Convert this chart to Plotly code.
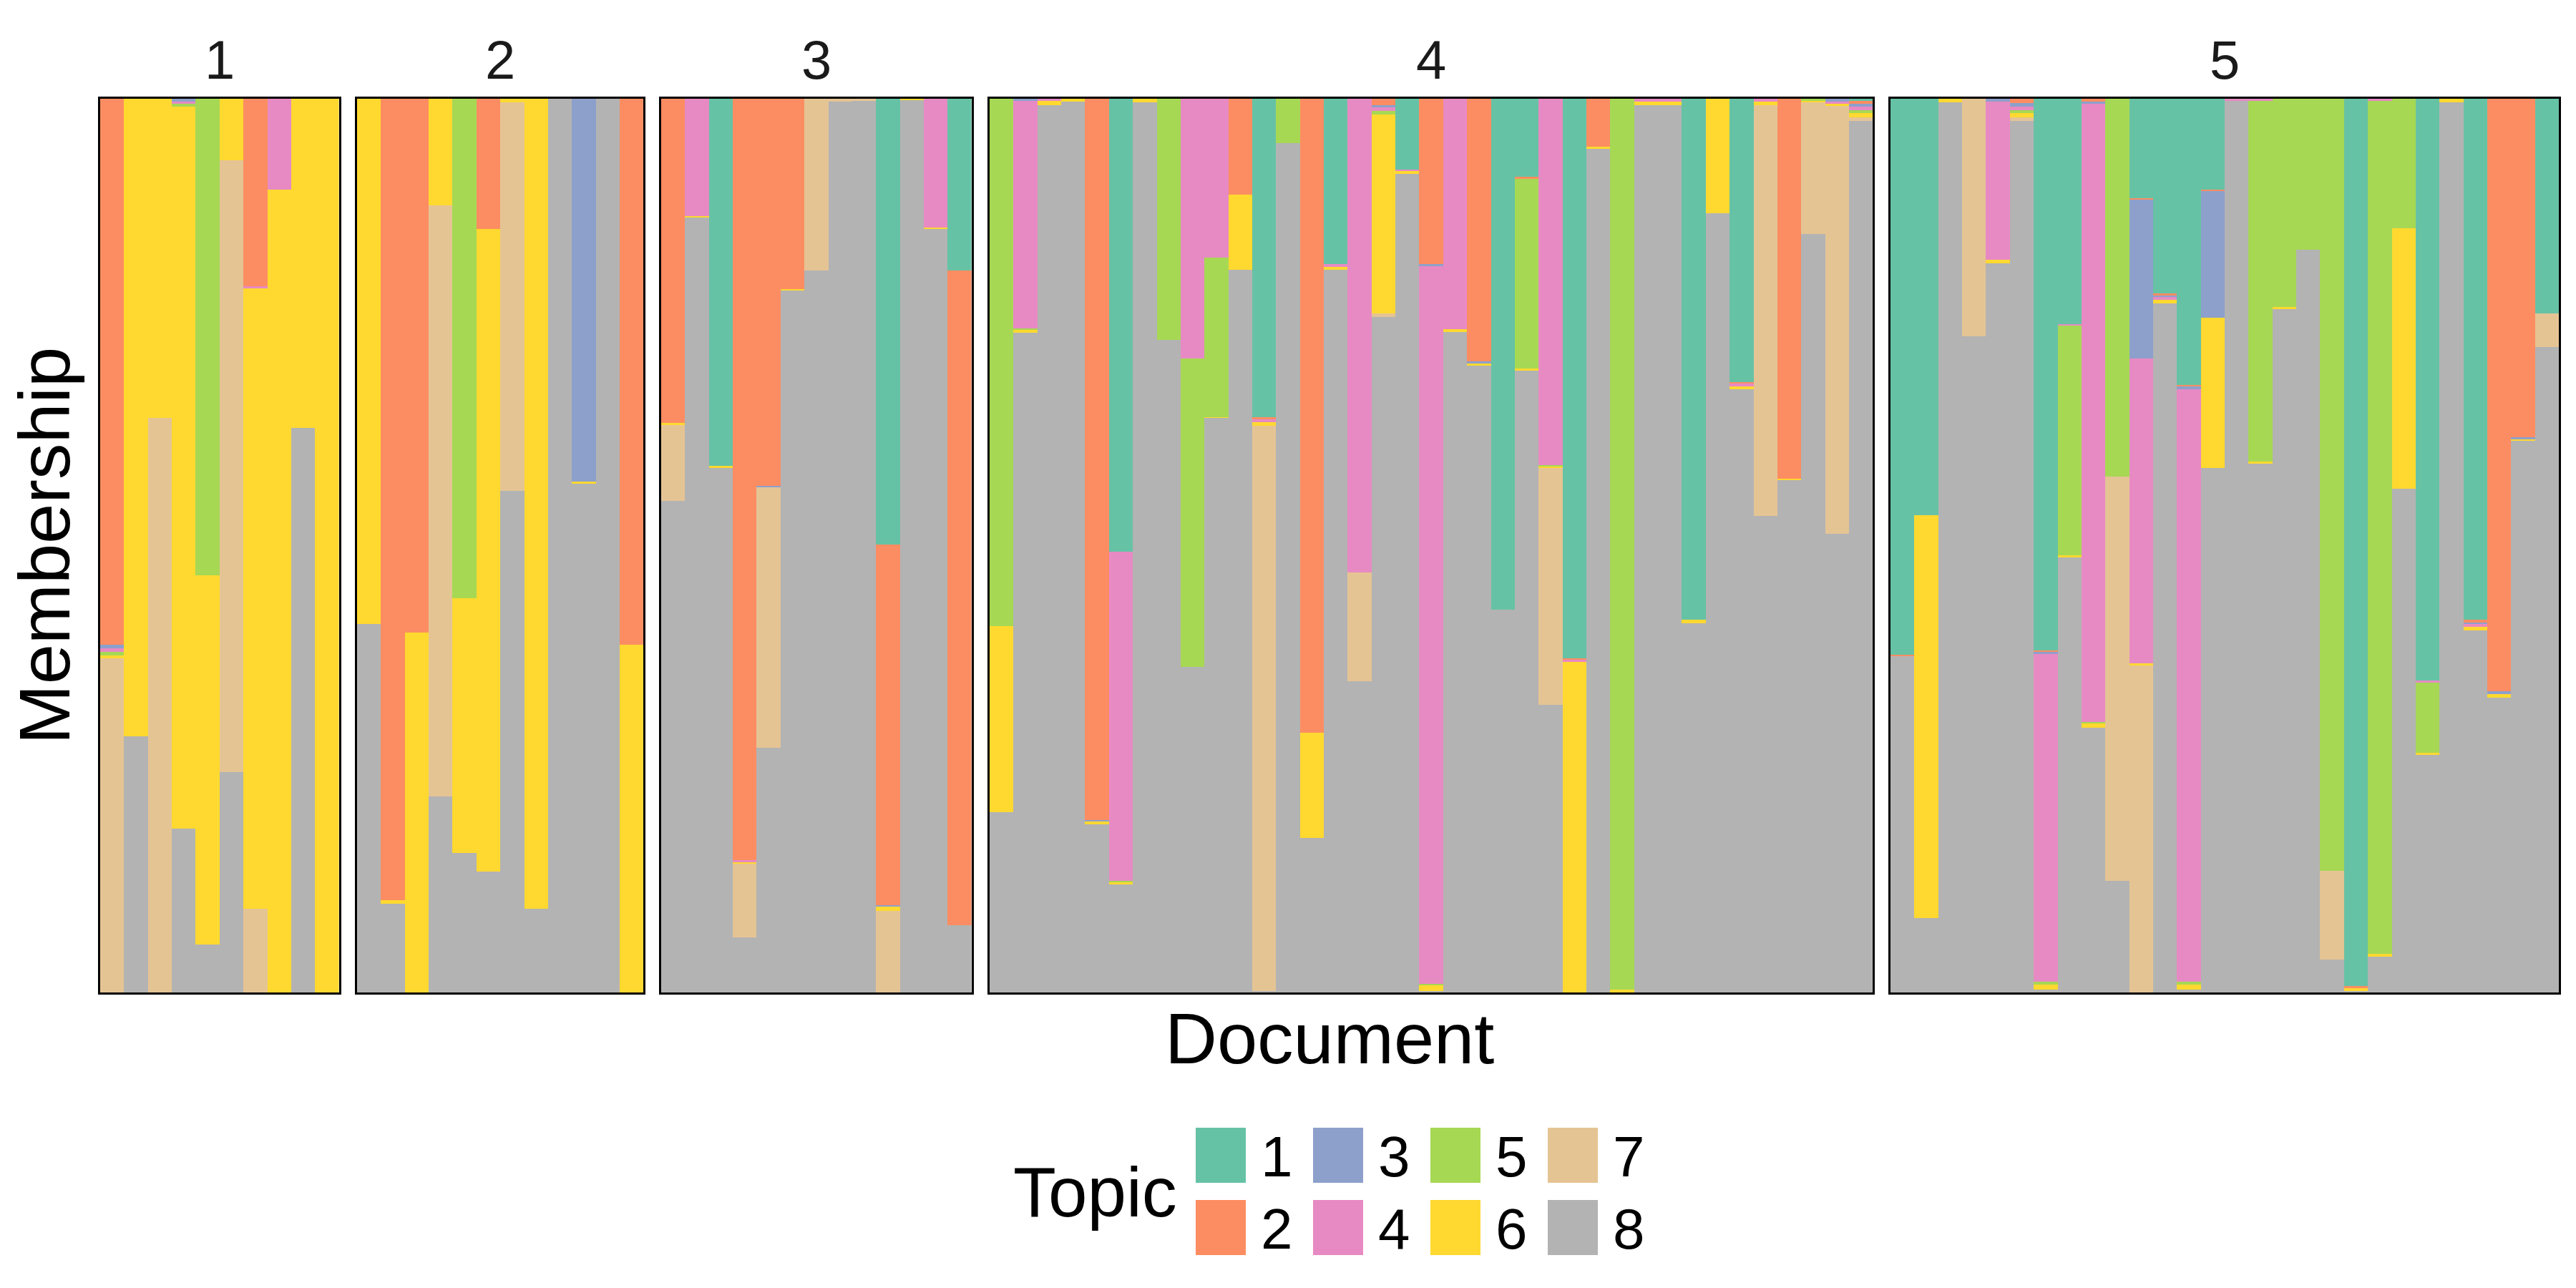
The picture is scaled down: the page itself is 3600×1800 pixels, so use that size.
import plotly.graph_objects as go

W, H = 3600, 1800

# ---------------- data ----------------
panel_labels = ["1", "2", "3", "4", "5"]
panel_sizes = [10, 12, 13, 37, 28]
topic_names = ["1", "2", "3", "4", "5", "6", "7", "8"]
topic_colors = ["#66C2A5", "#FC8D62", "#8DA0CB", "#E78AC3",
                "#A6D854", "#FFD92F", "#E5C494", "#B3B3B3"]

# membership of each document in each topic (documents in panel order)
topic1 = ([0, 0, 0, 0, 0, 0, 0, 0, 0, 0]
          + [0] * 12
          + [0, 0, .411, 0, 0, 0, 0, 0, 0, .499, 0, 0, .192]
          + [0, 0, 0, 0, 0, .507, 0, 0, 0, 0, 0, .356, 0, 0, .185, 0, 0, .079, 0, 0,
             0, .572, .087, 0, .626, 0, 0, 0, 0, .583, 0, .317, 0, 0, 0, 0, .002]
          + [.622, .466, 0, 0, 0, 0, .617, .252, 0, 0, .111, .218, .320, .102, 0, 0, 0, 0, 0, .993,
             0, 0, .651, 0, .583, 0, 0, .240])
topic2 = ([.611, 0, 0, 0, 0, 0, .210, 0, 0, 0]
          + [0, .897, .597, 0, 0, .146, 0, 0, 0, 0, 0, .611]
          + [.363, 0, 0, .852, .433, .213, 0, 0, 0, .403, 0, 0, .733]
          + [0, 0, 0, 0, .807, 0, 0, 0, 0, 0, .107, .003, 0, .709, 0, 0, .007, 0, .185, 0,
             .294, 0, .003, 0, .002, .054, 0, 0, 0, 0, 0, .002, 0, .425, 0, 0, .004]
          + [.002, 0, 0, 0, 0, .005, .002, 0, .003, 0, .002, .002, .002, .001, 0, 0, 0, 0, 0, .002,
             0, 0, 0, 0, .003, .663, .379, 0])
topic3 = ([.004, 0, 0, .003, 0, 0, 0, 0, 0, 0]
          + [0, 0, 0, 0, 0, 0, 0, 0, 0, .428, 0, 0]
          + [0, 0, 0, 0, .002, 0, 0, 0, 0, .002, 0, 0, 0]
          + [0, .002, 0, 0, .002, 0, 0, 0, 0, 0, 0, 0, 0, 0, 0, 0, .003, 0, .002, 0,
             .002, 0, 0, 0, 0, 0, 0, 0, 0, 0, 0, 0, 0, 0, 0, .003, .003]
          + [0, 0, 0, 0, .003, .004, .002, 0, .003, 0, .178, .002, .003, .142, 0, 0, 0, 0, 0, 0,
             0, 0, 0, 0, .002, .003, .002, 0])
topic4 = ([.004, 0, 0, .003, 0, 0, .002, .102, 0, 0]
          + [0] * 12
          + [0, .131, 0, .002, 0, 0, 0, 0, 0, 0, 0, .144, 0]
          + [0, .255, .002, 0, 0, .368, 0, 0, .291, .178, 0, .003, 0, 0, .003, .530, .004, .002, .803, .258,
             0, 0, 0, .410, .002, 0, 0, .003, .003, 0, 0, .003, .003, 0, 0, .003, .004]
          + [0, 0, 0, 0, .177, .004, .367, .002, .691, 0, .341, .003, .663, 0, .002, .002, 0, 0, 0, 0,
             .002, 0, .002, 0, .003, 0, 0, 0])
topic5 = ([.004, 0, 0, .003, .533, 0, 0, 0, 0, 0]
          + [0, 0, 0, 0, .559, 0, 0, 0, 0, 0, 0, 0]
          + [0] * 13
          + [.590, .002, 0, 0, 0, .001, 0, .270, .345, .178, 0, 0, .050, 0, 0, 0, .004, 0, .002, 0,
             0, 0, .212, .001, 0, 0, .997, 0, 0, 0, 0, 0, 0, 0, .002, 0, .003]
          + [0, 0, 0, 0, 0, .003, .003, .257, .002, .423, 0, 0, .003, 0, 0, .404, .233, .169, .864, 0,
             .955, .145, .079, 0, 0, 0, 0, 0])
topic6 = ([.003, .713, .357, .808, .413, .069, .694, .898, .368, 1.0]
          + [.588, .004, .403, .119, .285, .719, .004, .906, 0, .003, 0, .389]
          + [.002, .002, .002, .002, 0, .001, 0, 0, 0, .005, .001, .002, 0]
          + [.208, .003, .005, .003, .003, .003, .004, 0, 0, .001, .084, .004, 0, .118, .003, 0, .222, .003, .006, .003,
             .003, 0, .002, .002, .370, .002, .003, .004, .004, .004, .128, .003, .004, .002, .002, .002, .005]
          + [0, .451, .004, 0, .004, .005, .006, .002, .005, 0, .002, .004, .006, .168, 0, .002, .002, 0, 0, .003,
             .003, .291, .002, .004, .004, .004, .002, 0])
topic7 = ([.374, 0, .643, 0, 0, .684, .094, 0, 0, 0]
          + [0, 0, 0, .662, 0, 0, .435, 0, 0, 0, 0, 0]
          + [.085, 0, 0, .082, .291, 0, .192, .003, .002, .091, 0, 0, 0]
          + [0, 0, 0, 0, 0, 0, 0, 0, 0, 0, 0, .632, 0, 0, 0, .122, .004, 0, 0, 0,
             0, 0, 0, .265, 0, 0, 0, 0, 0, 0, 0, 0, .460, 0, .147, .479, .004]
          + [0, 0, 0, .266, 0, .004, 0, 0, 0, .452, .366, 0, 0, 0, 0, 0, 0, 0, .099, 0,
             0, 0, 0, 0, 0, 0, 0, .038])
topic8 = ([0, .287, 0, .183, .054, .247, 0, 0, .632, 0]
          + [.412, .099, 0, .219, .156, .135, .561, .094, 1, .569, 1, 0]
          + [.550, .867, .587, .062, .274, .786, .808, .997, .998, 0, .999, .854, .075]
          + [.202, .738, .993, .997, .188, .121, .996, .730, .364, .643, .809, .002, .950, .173, .809, .348, .756, .916, .002, .739,
             .701, .428, .696, .322, 0, .944, 0, .993, .993, .413, .872, .675, .533, .573, .849, .513, .975]
          + [.376, .083, .996, .734, .816, .975, .003, .487, .296, .125, 0, .771, .003, .587, .998, .592, .765, .831, .037, .002,
             .040, .564, .266, .996, .405, .330, .617, .722])

topics = [topic1, topic2, topic3, topic4, topic5, topic6, topic7, topic8]

# ---------------- layout geometry (pixels) ----------------
left_px, right_px, gap_px = 140, 3576, 25
top_px, bottom_px = 138, 1387
FONT = "Liberation Sans, Arial, Helvetica, sans-serif"

fig = go.Figure()
n_total = sum(panel_sizes)
bar_w = (right_px - left_px - gap_px * (len(panel_sizes) - 1)) / n_total
ydom = [1 - bottom_px / H, 1 - top_px / H]

start_px = left_px
offset = 0
annotations = []
for p, n in enumerate(panel_sizes):
    sfx = "" if p == 0 else str(p + 1)
    x0 = start_px
    x1 = start_px + n * bar_w
    xs = list(range(n))
    # stacked: topic 8 at bottom ... topic 1 on top
    for k in range(7, -1, -1):
        fig.add_trace(go.Bar(
            x=xs, y=topics[k][offset:offset + n],
            xaxis="x" + sfx, yaxis="y" + sfx,
            marker=dict(color=topic_colors[k], line=dict(width=0)),
            name="Topic " + topic_names[k], showlegend=False,
            width=1.0,
        ))
    axis_common = dict(showgrid=False, zeroline=False, showticklabels=False, ticks="",
                       showline=True, mirror=True, linecolor="black", linewidth=2.5)
    fig.update_layout(**{
        "xaxis" + sfx: dict(domain=[x0 / W, x1 / W], range=[-0.5, n - 0.5],
                            anchor="y" + sfx, **axis_common),
        "yaxis" + sfx: dict(domain=ydom, range=[0, 1], anchor="x" + sfx, **axis_common),
    })
    annotations.append(dict(text=panel_labels[p], x=(x0 + x1) / 2 / W, y=1 - 84 / H,
                            xref="paper", yref="paper", showarrow=False,
                            xanchor="center", yanchor="middle",
                            font=dict(size=76, color="#1A1A1A", family=FONT)))
    start_px = x1 + gap_px
    offset += n

# axis titles
annotations.append(dict(text="Document", x=(left_px + right_px) / 2 / W, y=1 - 1451 / H,
                        xref="paper", yref="paper", showarrow=False,
                        xanchor="center", yanchor="middle",
                        font=dict(size=101, color="black", family=FONT)))
annotations.append(dict(text="Membership", x=61 / W, y=1 - (top_px + bottom_px) / 2 / H,
                        xref="paper", yref="paper", showarrow=False, textangle=-90,
                        xanchor="center", yanchor="middle",
                        font=dict(size=101, color="black", family=FONT)))

# legend (drawn: 2 rows x 4 columns, column-major order)
annotations.append(dict(text="Topic", x=1530 / W, y=1 - 1666 / H,
                        xref="paper", yref="paper", showarrow=False,
                        xanchor="center", yanchor="middle",
                        font=dict(size=98, color="black", family=FONT)))
shapes = []
key_left0, key_step, key_w = 1671, 164, 70
row_tops = [1576, 1677]
key_h = 77
for k in range(8):
    col, row = k // 2, k % 2
    kx0 = key_left0 + col * key_step
    ky0 = row_tops[row]
    shapes.append(dict(type="rect", xref="paper", yref="paper",
                       x0=kx0 / W, x1=(kx0 + key_w) / W,
                       y0=1 - (ky0 + key_h) / H, y1=1 - ky0 / H,
                       fillcolor=topic_colors[k], line=dict(width=0)))
    annotations.append(dict(text=topic_names[k], x=(kx0 + key_w + 43) / W,
                            y=1 - (ky0 + key_h / 2 + 2) / H,
                            xref="paper", yref="paper", showarrow=False,
                            xanchor="center", yanchor="middle",
                            font=dict(size=80, color="black", family=FONT)))

fig.update_layout(
    width=W, height=H,
    margin=dict(l=0, r=0, t=0, b=0),
    barmode="stack", bargap=0,
    plot_bgcolor="white", paper_bgcolor="white",
    showlegend=False,
    annotations=annotations, shapes=shapes,
    font=dict(family=FONT),
)

fig.write_html("out.html")
